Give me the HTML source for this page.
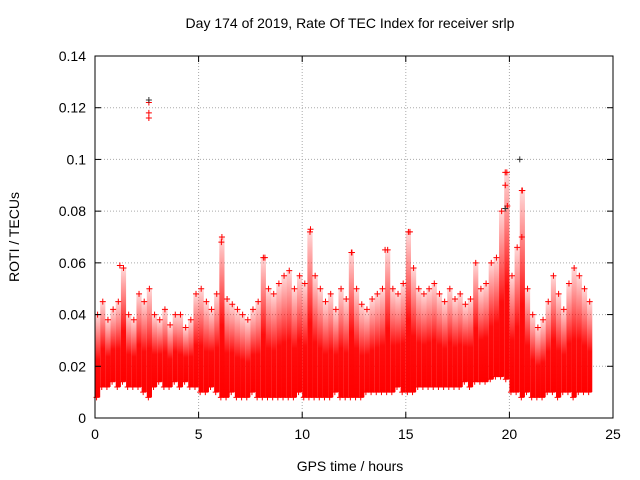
<!DOCTYPE html>
<html><head><meta charset="utf-8"><style>
body{margin:0;background:#fff;}
svg{display:block;font-family:"Liberation Sans",sans-serif;}
</style></head><body>
<svg id="chart" width="640" height="480">
<defs>
<linearGradient id="fade" x1="0" y1="1" x2="0" y2="0">
<stop offset="0" stop-color="#f00" stop-opacity="1"/>
<stop offset="0.45" stop-color="#f00" stop-opacity="0.95"/>
<stop offset="0.75" stop-color="#f00" stop-opacity="0.5"/>
<stop offset="1" stop-color="#f00" stop-opacity="0.15"/>
</linearGradient>
</defs>
<text x="350" y="28" text-anchor="middle" font-size="14">Day 174 of 2019, Rate Of TEC Index for receiver srlp</text>
<text x="350" y="471" text-anchor="middle" font-size="14">GPS time / hours</text>
<text x="19" y="237" text-anchor="middle" font-size="14" transform="rotate(-90 19 237)">ROTI / TECUs</text>
<g id="grid"></g><g id="marks"></g><g id="axes"></g>
</svg>
<script>
const xTicks=[0,5,10,15,20,25];
const yTicks=[0,0.02,0.04,0.06,0.08,0.1,0.12,0.14];
const yTickLabels=["0","0.02","0.04","0.06","0.08","0.1","0.12","0.14"];
const binStart=0, binWidth=0.25;
const highValues=[.040,.045,.038,.042,.045,.058,.040,.038,.048,.045,.050,.040,.038,.042,.036,.040,.040,.035,.038,.048,.050,.045,.042,.048,.070,.046,.044,.042,.040,.038,.042,.045,.062,.050,.048,.052,.055,.057,.050,.055,.052,.072,.055,.050,.045,.048,.042,.050,.046,.064,.050,.044,.042,.046,.048,.050,.065,.050,.048,.052,.072,.058,.050,.048,.050,.052,.048,.045,.050,.046,.048,.044,.046,.060,.050,.052,.060,.062,.080,.095,.055,.066,.088,.050,.040,.035,.038,.045,.055,.048,.042,.052,.058,.055,.050,.045];
const lowValues=[.008,.012,.012,.014,.012,.014,.012,.012,.012,.010,.008,.012,.014,.012,.012,.014,.012,.014,.012,.012,.010,.010,.012,.010,.008,.008,.010,.008,.008,.008,.010,.008,.008,.008,.008,.008,.008,.008,.008,.010,.008,.008,.008,.008,.008,.008,.010,.008,.008,.008,.008,.008,.010,.010,.010,.010,.010,.010,.012,.010,.010,.010,.012,.012,.012,.012,.012,.012,.012,.012,.012,.014,.012,.014,.014,.014,.015,.016,.016,.015,.010,.010,.008,.010,.008,.008,.008,.010,.010,.008,.010,.010,.008,.010,.010,.010];
const outlierTimes=[2.6,2.6,2.6,19.8,19.8,19.9,20.6,20.6,6.1,10.4,15.2,14.0,12.4,1.2,8.2];
const outlierValues=[0.122,0.118,0.116,0.095,0.090,0.082,0.088,0.070,0.068,0.073,0.072,0.065,0.064,0.059,0.062];
const blackTimes=[20.5,2.6,19.8];
const blackValues=[0.100,0.123,0.081];

const X0=95,X1=613,Y0=418,Y1=56;
const sx=v=>X0+(v-0)/(25-0)*(X1-X0);
const sy=v=>Y0-(v-0)/(0.14-0)*(Y0-Y1);
const NS="http://www.w3.org/2000/svg";
function mk(tag,attrs,parent){const e=document.createElementNS(NS,tag);for(const k in attrs)e.setAttribute(k,attrs[k]);parent.appendChild(e);return e;}
const grid=document.getElementById('grid'),marks=document.getElementById('marks'),axes=document.getElementById('axes');
xTicks.forEach(t=>{
  if(t>0&&t<25){const g=mk('line',{x1:sx(t),x2:sx(t),y1:Y0,y2:Y1,stroke:'#aaa','stroke-dasharray':'1,2'},grid);
  
  }
  const l=mk('text',{x:sx(t),y:Y0+21,'text-anchor':'middle','font-size':14},axes);l.textContent=t;
  
  
  mk('line',{x1:sx(t),x2:sx(t),y1:Y0,y2:Y0-6,stroke:'#000'},axes);
  mk('line',{x1:sx(t),x2:sx(t),y1:Y1,y2:Y1+6,stroke:'#000'},axes);
});
yTicks.forEach((t,i)=>{
  if(t>0&&t<0.14){const g=mk('line',{x1:X0,x2:X1,y1:sy(t),y2:sy(t),stroke:'#aaa','stroke-dasharray':'1,2'},grid);
  
  }
  const l=mk('text',{x:X0-9,y:sy(t)+5,'text-anchor':'end','font-size':14},axes);l.textContent=yTickLabels[i];
  
  
  mk('line',{x1:X0,x2:X0+6,y1:sy(t),y2:sy(t),stroke:'#000'},axes);
  mk('line',{x1:X1,x2:X1-6,y1:sy(t),y2:sy(t),stroke:'#000'},axes);
});
const frame=mk('rect',{x:X0,y:Y1,width:X1-X0,height:Y0-Y1,fill:'none',stroke:'#000'},axes);


function plus(x,y,col){const p=mk('path',{d:`M${x-3},${y}h6M${x},${y-3}v6`,stroke:col,'stroke-width':1},marks);
  
  }
highValues.forEach((h,i)=>{
  const lo=lowValues[i],t=binStart+i*binWidth;
  const r=mk('rect',{x:sx(t),y:sy(h),width:sx(t+binWidth)-sx(t),height:sy(lo)-sy(h),fill:'url(#fade)'},marks);
  
  
  plus(sx(t+binWidth*0.5),sy(h),'#f00');
  plus(sx(t+binWidth*0.3),sy(lo),'#f00');
});
outlierTimes.forEach((t,i)=>plus(sx(t),sy(outlierValues[i]),'#f00'));
blackTimes.forEach((t,i)=>plus(sx(t),sy(blackValues[i]),'#333'));
</script>
</body></html>
